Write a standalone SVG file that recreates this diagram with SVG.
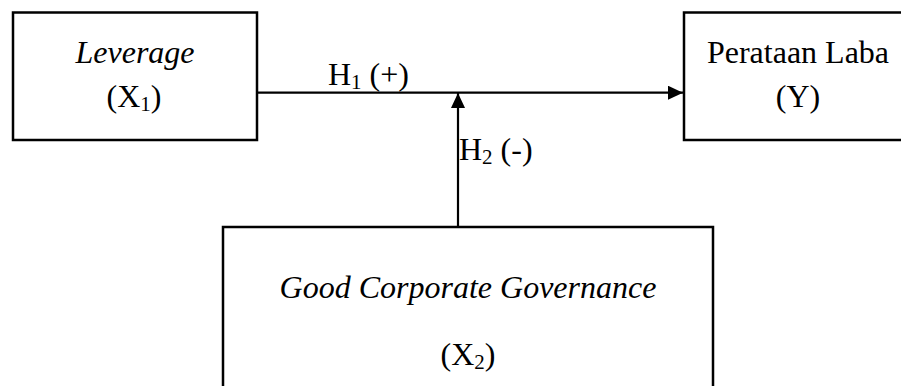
<svg xmlns="http://www.w3.org/2000/svg" width="901" height="386" viewBox="0 0 901 386">
<defs>
<style>
.box{fill:#fff;stroke:#000;stroke-width:2.5}
.t{font-family:"Liberation Serif","Times New Roman",serif;font-size:32px;fill:#000;text-anchor:middle}
.i{font-style:italic}
.lbl{font-family:"Liberation Serif","Times New Roman",serif;font-size:32px;fill:#000}
.ln{stroke:#000;stroke-width:2.2;fill:none}
</style>
<marker id="ah" markerWidth="15" markerHeight="14" refX="15" refY="7" orient="auto" markerUnits="userSpaceOnUse">
<path d="M0,0 L15,7 L0,14 Z" fill="#000"/>
</marker>
</defs>
<rect width="901" height="386" fill="#fff"/>
<g id="leverage">
<rect class="box" x="13" y="12.5" width="244" height="127.5"/>
<text class="t i" x="135" y="63">Leverage</text>
<text class="t" x="134" y="107">(X<tspan font-size="21" dy="4">1</tspan><tspan dy="-4">)</tspan></text>
</g>
<g id="perataan">
<rect class="box" x="684" y="12.5" width="230" height="127.5"/>
<text class="t" x="798" y="63">Perataan Laba</text>
<text class="t" x="798" y="107">(Y)</text>
</g>
<g id="gcg">
<rect class="box" x="223" y="227" width="490" height="170"/>
<text class="t i" x="468" y="298">Good Corporate Governance</text>
<text class="t" x="468" y="365">(X<tspan font-size="21" dy="4">2</tspan><tspan dy="-4">)</tspan></text>
</g>
<g id="connectors">
<line class="ln" x1="257" y1="92.7" x2="683" y2="92.7" marker-end="url(#ah)"/>
<line class="ln" x1="458" y1="227" x2="458" y2="93" marker-end="url(#ah)"/>
<text class="lbl" x="328" y="85">H<tspan font-size="21" dy="4">1</tspan><tspan dy="-4"> (+)</tspan></text>
<text class="lbl" x="459" y="160">H<tspan font-size="21" dy="4">2</tspan><tspan dy="-4"> (-)</tspan></text>
</g>
</svg>
